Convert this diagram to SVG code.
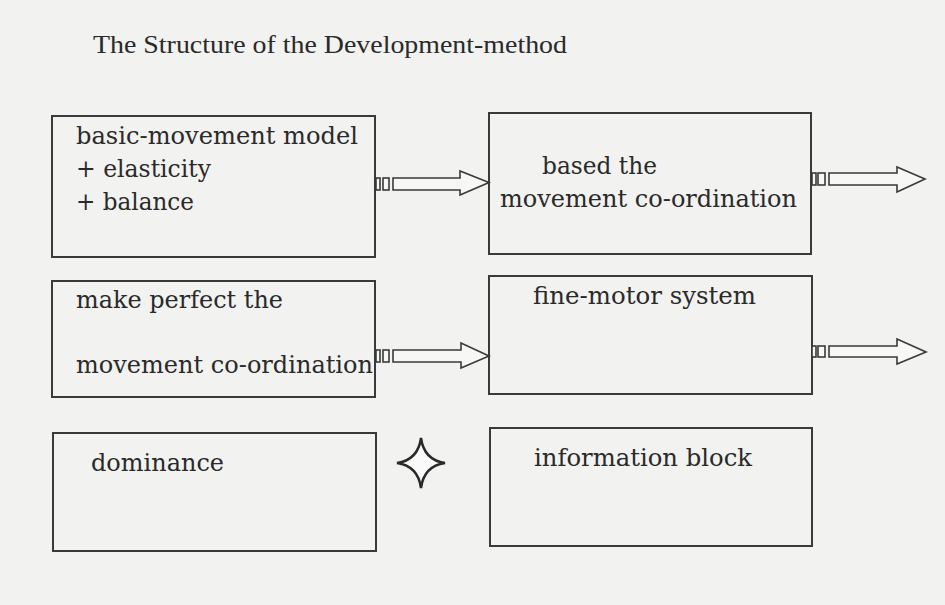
<svg xmlns="http://www.w3.org/2000/svg" width="945" height="605" viewBox="0 0 945 605">
<style>
.bg{fill:#f2f2f0}
.box{fill:none;stroke:#3a3a3a;stroke-width:2}
.t{font-family:"DejaVu Serif","Liberation Serif",serif;font-size:23.5px;fill:#2a2a2a}
.title{font-family:"Liberation Serif","Times New Roman",serif;font-size:25px;fill:#2a2a2a}
.ar{fill:#f7f7f5;stroke:#3a3a3a;stroke-width:1.6;stroke-linejoin:miter}
.star{fill:#fafafa;stroke:#2a2a2a;stroke-width:2.5}
</style>
<rect class="bg" x="0" y="0" width="945" height="605"/>
<text class="title" x="93" y="53" textLength="474" lengthAdjust="spacingAndGlyphs">The Structure of the Development-method</text>

<g id="node-basic">
<rect class="box" x="52" y="116" width="323" height="141"/>
<text class="t" x="76" y="144" textLength="282" lengthAdjust="spacingAndGlyphs">basic-movement model</text>
<text class="t" x="76" y="177" textLength="135" lengthAdjust="spacingAndGlyphs">+ elasticity</text>
<text class="t" x="76" y="210" textLength="118" lengthAdjust="spacingAndGlyphs">+ balance</text>
</g>
<g id="node-based">
<rect class="box" x="489" y="113" width="322" height="141"/>
<text class="t" x="542" y="174" textLength="115" lengthAdjust="spacingAndGlyphs">based the</text>
<text class="t" x="500" y="207" textLength="297" lengthAdjust="spacingAndGlyphs">movement co-ordination</text>
</g>
<g id="node-perfect">
<rect class="box" x="52" y="281" width="323" height="116"/>
<text class="t" x="76" y="308" textLength="207" lengthAdjust="spacingAndGlyphs">make perfect the</text>
<text class="t" x="76" y="373" textLength="297" lengthAdjust="spacingAndGlyphs">movement co-ordination</text>
</g>
<g id="node-finemotor">
<rect class="box" x="489" y="276" width="323" height="118"/>
<text class="t" x="533" y="304" textLength="223" lengthAdjust="spacingAndGlyphs">fine-motor system</text>
</g>
<g id="node-dominance">
<rect class="box" x="53" y="433" width="323" height="118"/>
<text class="t" x="91" y="471" textLength="133" lengthAdjust="spacingAndGlyphs">dominance</text>
</g>
<g id="node-information">
<rect class="box" x="490" y="428" width="322" height="118"/>
<text class="t" x="534" y="466" textLength="218" lengthAdjust="spacingAndGlyphs">information block</text>
</g>

<g id="connectors">
<g id="arrow-1">
<rect class="ar" x="376" y="178" width="4" height="12"/>
<rect class="ar" x="383" y="178" width="6" height="12"/>
<polygon class="ar" points="393,178 460,178 460,171 489,182.5 460,195 460,190 393,190"/>
</g>
<g id="arrow-2">
<rect class="ar" x="812" y="173" width="4" height="12"/>
<rect class="ar" x="818" y="173" width="7" height="12"/>
<polygon class="ar" points="829,173 897,173 897,167 925,179 897,192 897,185 829,185"/>
</g>
<g id="arrow-3">
<rect class="ar" x="376" y="350" width="4" height="12"/>
<rect class="ar" x="383" y="350" width="6" height="12"/>
<polygon class="ar" points="393,350 461,350 461,343 489,356 461,368 461,362 393,362"/>
</g>
<g id="arrow-4">
<rect class="ar" x="812" y="346" width="4" height="11"/>
<rect class="ar" x="818" y="346" width="7" height="11"/>
<polygon class="ar" points="829,346 897,346 897,339 926,352 897,364 897,357 829,357"/>
</g>
<g id="plus-star">
<path class="star" d="M421,438 Q424,460 445,463 Q424,466 421,488 Q418,466 397,463 Q418,460 421,438 Z"/>
</g>
</g>
</svg>
